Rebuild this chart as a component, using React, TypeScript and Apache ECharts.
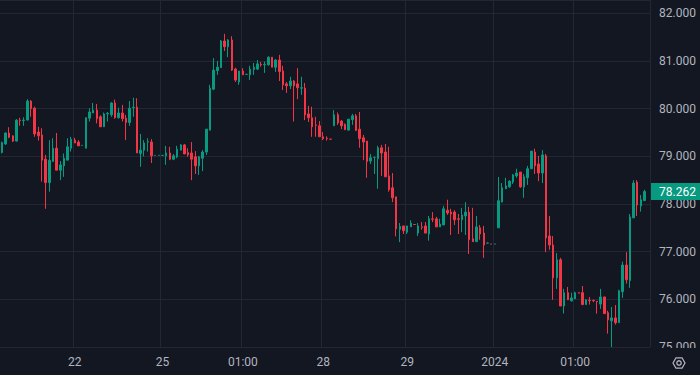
import React, { useEffect, useRef } from "react";
import * as echarts from "echarts";

// OHLC (hourly candles)
const opens = [
  79.08, 79.26, 79.49, 79.43, 79.32, 79.76, 79.75, 79.76, 80.16, 80.01,
  79.51, 79.45, 78.94, 78.45, 78.89, 79.17, 78.71, 78.80, 78.92, 79.17,
  79.34, 79.30, 79.23, 79.17, 79.80, 79.91, 79.97, 79.83, 79.62, 79.89,
  79.87, 80.12, 79.81, 79.91, 79.80, 79.71, 80.02, 80.03, 79.06, 79.13,
  79.30, 79.30, 79.02, 79.02, 79.02, 79.01, 79.07, 78.94, 78.99, 79.13,
  79.24, 79.08, 79.07, 78.99, 78.80, 78.96, 79.09, 79.55, 80.41, 80.80,
  80.86, 81.42, 81.30, 81.44, 80.83, 80.56, 80.79, 80.72, 80.71, 80.82,
  80.83, 80.93, 80.92, 80.92, 81.08, 80.87, 81.02, 80.79, 80.52, 80.48,
  80.58, 80.52, 80.43, 80.43, 79.89, 79.81, 79.66, 79.64, 79.41, 79.38,
  79.36, 79.64, 79.87, 79.74, 79.67, 79.55, 79.77, 79.85, 79.57, 79.39,
  79.32, 78.90, 78.98, 78.95, 79.18, 79.09, 78.59, 78.34, 78.15, 77.47,
  77.54, 77.41, 77.52, 77.57, 77.39, 77.52, 77.54, 77.37, 77.69, 77.69,
  77.52, 77.56, 77.87, 77.83, 77.83, 77.69, 77.67, 77.75, 77.83, 77.27,
  77.21, 77.50, 77.39, 77.18, 77.16, 77.16, 77.50, 78.04, 78.32, 78.36,
  78.46, 78.59, 78.67, 78.36, 78.55, 78.74, 79.09, 78.84, 78.65, 79.01,
  77.33, 77.14, 76.45, 76.83, 75.86, 76.14, 75.97, 76.01, 76.14, 76.14,
  75.89, 75.98, 75.98, 75.96, 75.90, 76.05, 75.72, 75.55, 75.61, 75.51,
  76.16, 76.72, 76.39, 77.71, 78.46, 77.96, 78.07,
];
const closes = [
  79.29, 79.49, 79.40, 79.32, 79.76, 79.75, 79.76, 80.16, 80.00, 79.47,
  79.43, 78.92, 78.45, 78.92, 79.17, 78.71, 78.82, 78.96, 79.20, 79.36,
  79.28, 79.22, 79.23, 79.81, 79.93, 79.97, 79.79, 79.62, 79.89, 79.90,
  80.12, 79.81, 79.91, 79.79, 79.71, 80.01, 80.03, 79.07, 79.13, 79.28,
  79.31, 79.01, 79.02, 79.02, 79.02, 79.07, 78.94, 79.01, 79.15, 79.24,
  79.05, 79.03, 78.94, 78.80, 78.99, 79.09, 79.57, 80.43, 80.81, 80.87,
  81.42, 81.30, 81.44, 80.81, 80.60, 80.79, 80.71, 80.72, 80.83, 80.87,
  80.94, 80.92, 80.93, 81.08, 80.87, 81.02, 80.78, 80.50, 80.48, 80.58,
  80.48, 80.44, 80.44, 79.87, 79.81, 79.62, 79.65, 79.41, 79.37, 79.37,
  79.36, 79.87, 79.70, 79.64, 79.56, 79.78, 79.85, 79.54, 79.37, 79.30,
  78.89, 78.97, 78.98, 79.18, 79.07, 78.57, 78.30, 78.13, 77.48, 77.53,
  77.44, 77.54, 77.60, 77.57, 77.54, 77.51, 77.39, 77.69, 77.68, 77.52,
  77.58, 77.90, 77.81, 77.79, 77.67, 77.68, 77.77, 77.83, 77.25, 77.21,
  77.52, 77.37, 77.14, 77.18, 77.16, 77.16, 78.07, 78.34, 78.38, 78.48,
  78.61, 78.65, 78.36, 78.57, 78.74, 79.11, 78.80, 78.65, 79.03, 77.29,
  77.14, 76.45, 76.83, 75.86, 76.14, 75.99, 76.03, 76.14, 76.13, 75.89,
  75.99, 75.97, 75.97, 75.95, 76.05, 75.70, 75.57, 75.61, 75.51, 76.18,
  76.72, 76.41, 77.73, 78.44, 77.98, 78.09, 78.262,
];
const lows = [
  79.06, 79.24, 79.38, 79.30, 79.31, 79.64, 79.64, 79.76, 79.83, 79.41,
  79.33, 78.47, 77.90, 78.26, 78.89, 78.71, 78.50, 78.57, 78.92, 79.10,
  79.28, 79.22, 79.23, 79.17, 79.73, 79.91, 79.69, 79.62, 79.62, 79.73,
  79.83, 79.79, 79.79, 79.73, 79.34, 79.64, 79.83, 79.07, 78.78, 79.00,
  79.10, 78.86, 79.02, 79.02, 79.02, 78.82, 78.92, 78.92, 78.96, 79.13,
  79.05, 78.99, 78.50, 78.63, 78.61, 78.69, 79.03, 79.55, 80.39, 80.71,
  80.86, 81.21, 81.08, 80.79, 80.56, 80.50, 80.71, 80.72, 80.60, 80.71,
  80.81, 80.88, 80.75, 80.90, 80.87, 80.77, 80.58, 80.39, 80.33, 80.41,
  79.73, 80.20, 80.29, 79.76, 79.72, 79.41, 79.41, 79.41, 79.34, 79.33,
  79.36, 79.64, 79.66, 79.57, 79.55, 79.55, 79.66, 79.54, 79.18, 78.92,
  78.55, 78.84, 78.63, 78.32, 78.59, 78.57, 78.26, 78.04, 77.32, 77.20,
  77.37, 77.37, 77.52, 77.57, 77.33, 77.46, 77.39, 77.23, 77.62, 77.52,
  77.52, 77.56, 77.77, 77.35, 77.56, 77.37, 77.41, 77.35, 76.95, 77.21,
  77.21, 77.25, 76.87, 77.18, 77.16, 77.16, 77.50, 78.04, 78.32, 78.34,
  78.42, 78.55, 78.34, 78.13, 78.40, 78.74, 78.63, 78.48, 78.44, 76.99,
  77.04, 75.99, 76.22, 75.86, 75.70, 75.99, 75.95, 76.01, 76.13, 75.89,
  75.89, 75.89, 75.94, 75.70, 75.80, 75.70, 75.28, 75.00, 75.47, 75.51,
  76.03, 76.33, 76.24, 77.71, 77.75, 77.84, 78.07,
];
const highs = [
  79.31, 79.50, 79.61, 79.44, 79.78, 79.81, 79.82, 80.20, 80.18, 80.04,
  79.62, 79.59, 79.03, 79.34, 79.38, 79.49, 78.90, 79.06, 79.38, 79.41,
  79.39, 79.34, 79.23, 79.81, 80.01, 80.12, 80.10, 79.86, 79.92, 79.93,
  80.14, 80.19, 80.02, 80.08, 79.87, 80.16, 80.23, 80.22, 79.47, 79.34,
  79.38, 79.36, 79.02, 79.02, 79.02, 79.22, 79.20, 79.05, 79.22, 79.26,
  79.26, 79.17, 79.30, 79.11, 79.01, 79.13, 79.57, 80.50, 81.06, 81.00,
  81.44, 81.57, 81.46, 81.52, 80.86, 80.79, 80.85, 80.72, 80.90, 80.96,
  81.02, 80.98, 80.99, 81.10, 81.08, 81.04, 81.13, 80.90, 80.56, 80.67,
  80.60, 80.85, 80.67, 80.54, 80.06, 80.04, 79.83, 79.74, 79.51, 79.42,
  79.36, 79.97, 79.92, 79.76, 79.69, 79.78, 79.89, 79.89, 79.93, 79.45,
  79.32, 79.05, 78.98, 79.22, 79.24, 79.26, 79.20, 78.65, 78.15, 77.60,
  77.54, 77.54, 77.66, 77.57, 77.60, 77.62, 77.62, 77.75, 77.83, 77.73,
  77.69, 77.96, 78.09, 77.90, 77.87, 77.79, 77.92, 78.04, 77.94, 77.92,
  77.75, 77.56, 77.54, 77.18, 77.16, 77.16, 78.57, 78.44, 78.55, 78.50,
  78.63, 78.74, 78.67, 78.63, 78.80, 79.11, 79.16, 79.01, 79.13, 79.05,
  77.75, 77.33, 76.97, 76.87, 76.22, 76.26, 76.14, 76.16, 76.14, 76.28,
  76.00, 76.05, 75.99, 75.96, 76.22, 76.05, 75.76, 75.84, 75.88, 76.20,
  76.79, 76.99, 77.79, 78.50, 78.50, 78.19, 78.30,
];

// time-axis labels: candle index -> text
const xTickIndex = [20, 44, 66, 88, 111, 135, 157];
const xTickText = ["22", "25", "01:00", "28", "29", "2024", "01:00"];

// price axis
const yMin = 75;
const yMax = 82.28;
const yInterval = 1;

const BG = "#131722";
const GRID = "#232733";
const TEXT = "#b2b5be";
const UP = "#089981";
const DOWN = "#f23645";
const FONT = "Roboto, 'Liberation Sans', sans-serif";

export default function App() {
  const ref = useRef<HTMLDivElement>(null);

  useEffect(() => {
    if (!ref.current) return;
    const chart = echarts.init(ref.current, undefined, { renderer: "svg" });

    // one empty slot after the last candle (right margin)
    const categories = Array.from({ length: opens.length + 1 }, (_, i) => String(i));
    const ohlc = opens.map((o, i) => [o, closes[i], lows[i], highs[i]]);
    const lastPrice = closes[closes.length - 1];
    const isTick = (idx: number) => xTickIndex.indexOf(idx) >= 0;

    chart.setOption({
      animation: false,
      backgroundColor: BG,
      grid: { left: 0, right: 50, top: 0, bottom: 28, containLabel: false },
      xAxis: {
        type: "category",
        data: categories,
        boundaryGap: true,
        axisLine: { show: false },
        axisTick: { show: false },
        axisLabel: {
          interval: (idx: number) => isTick(idx),
          formatter: (_v: string, idx: number) => {
            const k = xTickIndex.indexOf(idx);
            return k >= 0 ? xTickText[k] : "";
          },
          color: TEXT,
          fontSize: 12,
          fontFamily: FONT,
          margin: 9,
        },
        splitLine: {
          show: true,
          interval: (idx: number) => isTick(idx),
          lineStyle: { color: GRID, width: 1 },
        },
      },
      yAxis: {
        type: "value",
        position: "right",
        min: yMin,
        max: yMax,
        interval: yInterval,
        scale: true,
        axisLine: { show: false },
        axisTick: { show: false },
        axisLabel: {
          color: TEXT,
          fontSize: 12,
          fontFamily: FONT,
          margin: 9,
          showMaxLabel: false,
          formatter: (v: number) => v.toFixed(3),
        },
        splitLine: { show: true, lineStyle: { color: GRID, width: 1 } },
      },
      series: [
        {
          type: "candlestick",
          data: ohlc,
          barWidth: 2,
          clip: true,
          itemStyle: {
            color: UP,
            color0: DOWN,
            borderColor: UP,
            borderColor0: DOWN,
            borderWidth: 1,
          },
          markLine: {
            silent: true,
            symbol: ["none", "none"],
            lineStyle: { color: "rgba(0,0,0,0)", width: 0 },
            label: {
              show: true,
              position: "end",
              distance: 1,
              formatter: () => lastPrice.toFixed(3),
              color: "#ffffff",
              backgroundColor: UP,
              fontSize: 12,
              fontFamily: FONT,
              lineHeight: 13,
              padding: [2, 7, 2, 8],
            },
            data: [{ yAxis: lastPrice }],
          },
        },
      ],
      graphic: [
        {
          type: "rect",
          z: 100,
          shape: { x: 650, y: 348, width: 50, height: 27 },
          style: { fill: BG },
          silent: true,
        },
        {
          type: "polygon",
          z: 101,
          shape: {
            points: [
              [685, 363],
              [682, 357.8],
              [676, 357.8],
              [673, 363],
              [676, 368.2],
              [682, 368.2],
            ],
          },
          style: { fill: "none", stroke: TEXT, lineWidth: 1.3, lineJoin: "round" },
          silent: true,
        },
        {
          type: "circle",
          z: 101,
          shape: { cx: 679, cy: 363, r: 2.2 },
          style: { fill: "none", stroke: TEXT, lineWidth: 1.3 },
          silent: true,
        },
      ],
    });

    return () => chart.dispose();
  }, []);

  return (
    <div
      ref={ref}
      style={{
        position: "fixed",
        left: 0,
        top: 0,
        width: 700,
        height: 375,
        background: BG,
      }}
    />
  );
}
